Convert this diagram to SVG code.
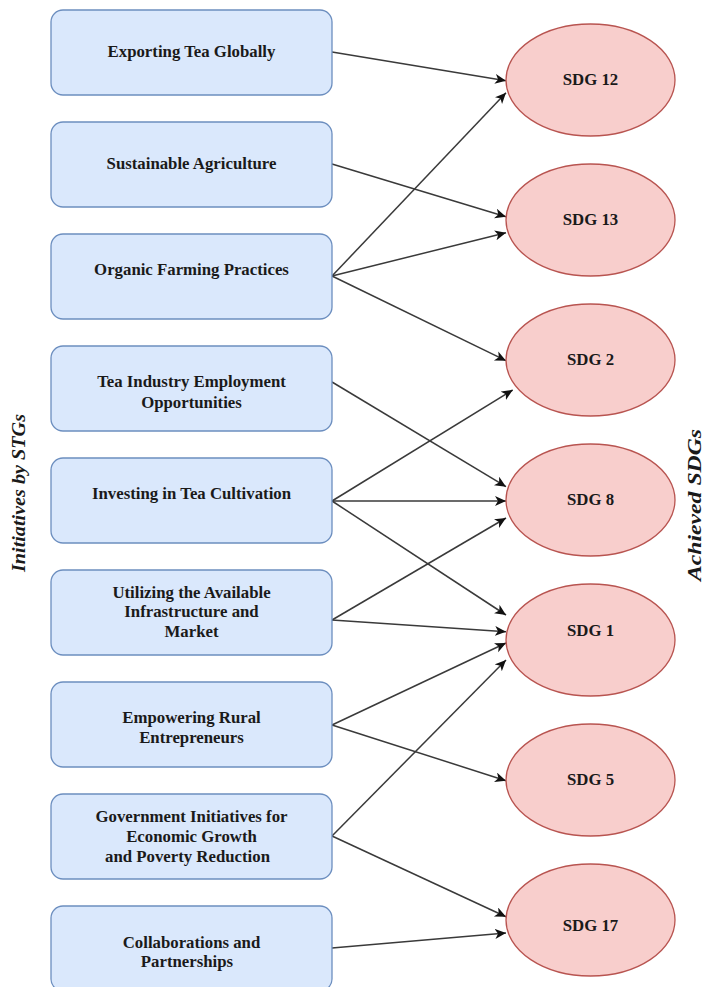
<svg xmlns="http://www.w3.org/2000/svg" width="707" height="987" viewBox="0 0 707 987">
  <style>
    .box rect { fill: #dae8fc; stroke: #6c8ebf; stroke-width: 1.3; }
    .sdg ellipse { fill: #f8cecc; stroke: #b85450; stroke-width: 1.3; }
    text { font-family: "Liberation Serif", "Times New Roman", serif; font-weight: bold; font-size: 16.8px; fill: #1a1a1a; text-anchor: middle; }
    .side { font-style: italic; font-size: 18px; }
    .edges line { stroke: #3a3a3a; stroke-width: 1.5; fill: none; marker-end: url(#arrow); }
  </style>
  <defs>
    <marker id="arrow" markerUnits="userSpaceOnUse" markerWidth="14" markerHeight="12" refX="11" refY="5" orient="auto">
      <path d="M0,0 L11,5 L0,10 L3,5 Z" fill="#111111"/>
    </marker>
  </defs>

  <rect width="707" height="987" fill="#ffffff"/>

  <!-- side captions -->
  <text class="side" transform="translate(25,493) rotate(-90)" textLength="158" lengthAdjust="spacingAndGlyphs">Initiatives by STGs</text>
  <text class="side" transform="translate(701,505) rotate(-90)" textLength="152" lengthAdjust="spacingAndGlyphs">Achieved SDGs</text>

  <!-- connectors -->
  <g id="edges" class="edges">
    <line x1="332" y1="52" x2="506" y2="80.7"/>
    <line x1="332" y1="164" x2="506" y2="216.7"/>
    <line x1="332" y1="276" x2="506" y2="92.7"/>
    <line x1="332" y1="276" x2="506" y2="232.7"/>
    <line x1="332" y1="276" x2="506" y2="360.7"/>
    <line x1="332" y1="382" x2="506" y2="486.7"/>
    <line x1="332" y1="501" x2="512.7" y2="390"/>
    <line x1="332" y1="501" x2="506" y2="501"/>
    <line x1="332" y1="501" x2="506" y2="615"/>
    <line x1="332" y1="620" x2="506" y2="518"/>
    <line x1="332" y1="620" x2="506" y2="631.7"/>
    <line x1="332" y1="725" x2="506" y2="643"/>
    <line x1="332" y1="725" x2="506" y2="780.7"/>
    <line x1="332" y1="836" x2="506" y2="660"/>
    <line x1="332" y1="836" x2="506" y2="916.7"/>
    <line x1="332" y1="948" x2="506" y2="933"/>
  </g>

  <!-- initiatives -->
  <g id="exporting" class="box">
    <rect x="51" y="10" width="281" height="85" rx="12"/>
    <text x="191.5" y="57">Exporting Tea Globally</text>
  </g>
  <g id="sustainable" class="box">
    <rect x="51" y="122" width="281" height="85" rx="12"/>
    <text x="191.5" y="169">Sustainable Agriculture</text>
  </g>
  <g id="organic" class="box">
    <rect x="51" y="234" width="281" height="85" rx="12"/>
    <text x="191.5" y="275">Organic Farming Practices</text>
  </g>
  <g id="employment" class="box">
    <rect x="51" y="346" width="281" height="85" rx="12"/>
    <text x="191.5" y="387">Tea Industry Employment</text>
    <text x="191.5" y="408">Opportunities</text>
  </g>
  <g id="investing" class="box">
    <rect x="51" y="458" width="281" height="85" rx="12"/>
    <text x="191.5" y="499">Investing in Tea Cultivation</text>
  </g>
  <g id="infrastructure" class="box">
    <rect x="51" y="570" width="281" height="85" rx="12"/>
    <text x="191.5" y="598">Utilizing the Available</text>
    <text x="191.5" y="617">Infrastructure and</text>
    <text x="191.5" y="637">Market</text>
  </g>
  <g id="entrepreneurs" class="box">
    <rect x="51" y="682" width="281" height="85" rx="12"/>
    <text x="191.5" y="723">Empowering Rural</text>
    <text x="191.5" y="743">Entrepreneurs</text>
  </g>
  <g id="government" class="box">
    <rect x="51" y="794" width="281" height="85" rx="12"/>
    <text x="191.5" y="822">Government Initiatives for</text>
    <text x="191.5" y="842">Economic Growth</text>
    <text x="187.5" y="862">and Poverty Reduction</text>
  </g>
  <g id="collaborations" class="box">
    <rect x="51" y="906" width="281" height="85" rx="12"/>
    <text x="191.5" y="948">Collaborations and</text>
    <text x="187" y="967">Partnerships</text>
  </g>

  <!-- goals -->
  <g id="sdg12" class="sdg">
    <ellipse cx="590.5" cy="80" rx="84.5" ry="56"/>
    <text x="590.5" y="85">SDG 12</text>
  </g>
  <g id="sdg13" class="sdg">
    <ellipse cx="590.5" cy="220" rx="84.5" ry="56"/>
    <text x="590.5" y="225">SDG 13</text>
  </g>
  <g id="sdg2" class="sdg">
    <ellipse cx="590.5" cy="360" rx="84.5" ry="56"/>
    <text x="590.5" y="365">SDG 2</text>
  </g>
  <g id="sdg8" class="sdg">
    <ellipse cx="590.5" cy="500" rx="84.5" ry="56"/>
    <text x="590.5" y="505">SDG 8</text>
  </g>
  <g id="sdg1" class="sdg">
    <ellipse cx="590.5" cy="640" rx="84.5" ry="56"/>
    <text x="590.5" y="636">SDG 1</text>
  </g>
  <g id="sdg5" class="sdg">
    <ellipse cx="590.5" cy="780" rx="84.5" ry="56"/>
    <text x="590.5" y="785">SDG 5</text>
  </g>
  <g id="sdg17" class="sdg">
    <ellipse cx="590.5" cy="920" rx="84.5" ry="56"/>
    <text x="590.5" y="931">SDG 17</text>
  </g>
</svg>
